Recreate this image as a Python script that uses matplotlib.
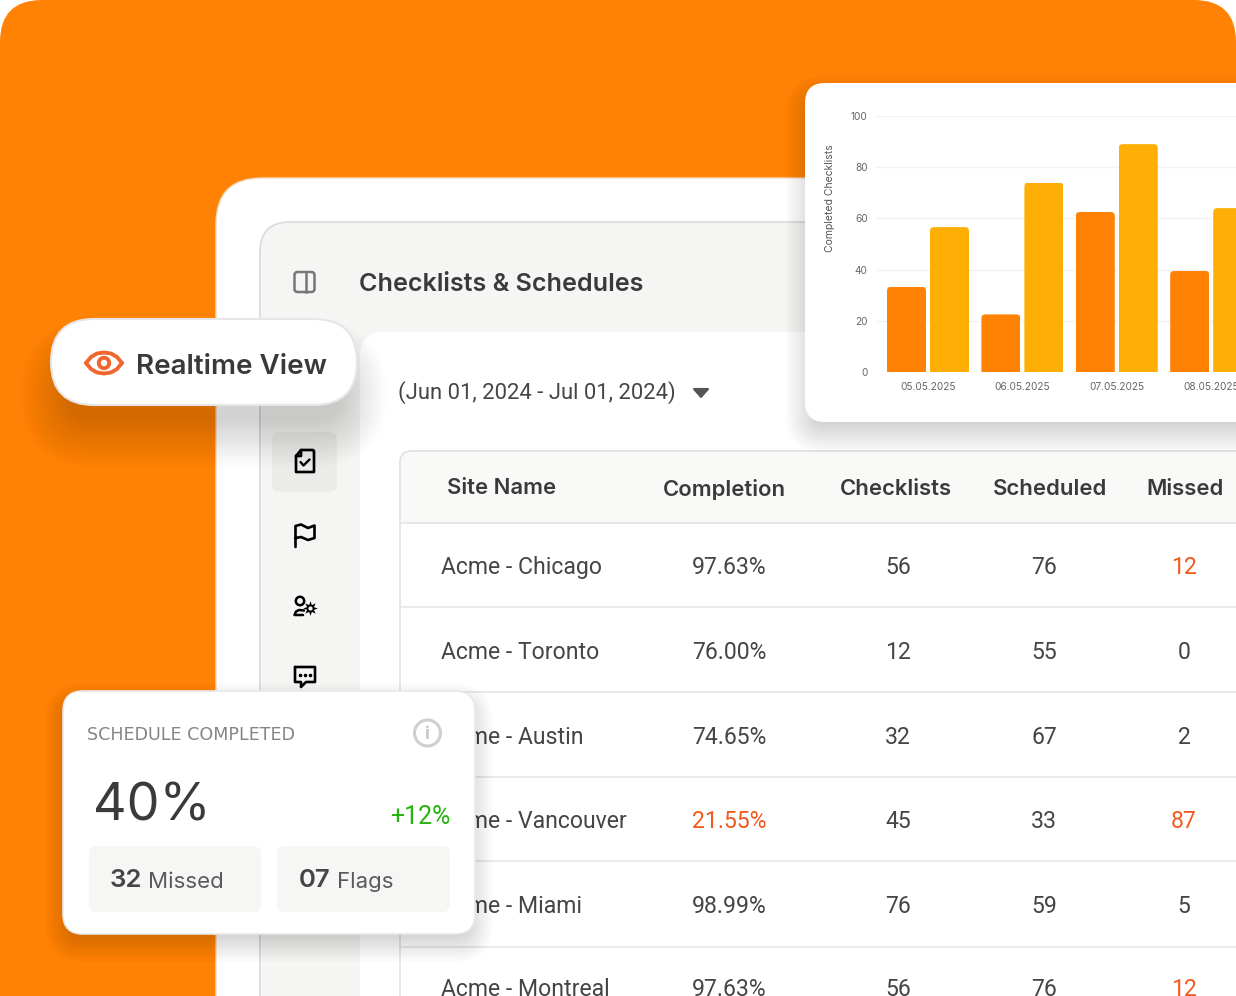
import numpy as np
import matplotlib
matplotlib.use('Agg')
import matplotlib.pyplot as plt
from matplotlib.patches import FancyBboxPatch, Circle, Polygon

plt.rcParams['font.family'] = ['Inter', 'DejaVu Sans']

# chart data
dates = ['05.05.2025', '06.05.2025', '07.05.2025', '08.05.2025']
completedA = [33.3, 22.5, 62.5, 39.5]
completedB = [56.6, 74, 89, 64]
yTicks = [0, 20, 40, 60, 80, 100]

# table data
headers = ['Site Name', 'Completion', 'Checklists', 'Scheduled', 'Missed']
sites = ['Acme - Chicago', 'Acme - Toronto', 'Acme - Austin', 'Acme - Vancouver', 'Acme - Miami', 'Acme - Montreal']
completion = ['97.63%', '76.00%', '74.65%', '21.55%', '98.99%', '97.63%']
checklists = ['56', '12', '32', '45', '76', '56']
scheduled = ['76', '55', '67', '33', '59', '76']
missed = ['12', '0', '2', '87', '5', '12']
alertCompletion = ['21.55%']
alertMissed = ['12', '87']

ORANGE = '#FF8205'
AMBER = '#FFAE05'
ALERT = '#F2591D'
DARK = '#3A3A3A'
TEXT = '#454545'
BODY = ['Roboto', 'DejaVu Sans']

fig = plt.figure(figsize=(12.36, 9.96), dpi=100, facecolor='white')
ui = fig.add_axes([0, 0, 1, 1])
ui.set_xlim(0, 1236)
ui.set_ylim(996, 0)
ui.axis('off')


# rounded box in pixel coordinates
def box(x, y, w, h, r, color, edge='none', lw=0, z=1, alpha=None):
    p = FancyBboxPatch((x, y), w, h, boxstyle='round,pad=0,rounding_size=%s' % r,
                       facecolor=color, edgecolor=edge, linewidth=lw, zorder=z, alpha=alpha)
    ui.add_patch(p)
    return p


# soft shadow made of stacked see-through boxes
def shadow(x, y, w, h, r, dy, blur, strength, z):
    n = 22
    for i in range(n):
        grow = blur * (1 - i / (n - 1)) - blur * 0.35
        box(x - grow, y + dy - grow, w + 2 * grow, h + 2 * grow, max(r + grow, 2), 'black', z=z, alpha=strength / n)


# stroke icon from point list
def stroke(points, color='black', lw=2, z=5, closed=False):
    pts = np.array(points, dtype=float)
    if closed:
        pts = np.vstack([pts, pts[0]])
    ui.plot(pts[:, 0], pts[:, 1], color=color, lw=lw, zorder=z, solid_capstyle='round', solid_joinstyle='round')


# background and page
box(0, 0, 1236, 1040, 42, ORANGE, z=0)
box(216, 178, 1100, 900, 46, 'white', edge='#F1D9BE', lw=1, z=1)
box(260, 222, 1040, 860, 30, '#F5F5F4', edge='#DADADA', lw=1.2, z=2)
box(360, 332, 960, 750, 24, 'white', z=3)
ui.text(359, 284, 'Checklists & Schedules', fontsize=18.1, fontweight='semibold', color=DARK, va='center', zorder=4)
ui.text(398, 393, '(Jun 01, 2024 - Jul 01, 2024)', fontsize=15.8, family=BODY, color=TEXT, va='center', zorder=4)
ui.add_patch(Polygon([[694, 389], [708, 389], [701, 397]], closed=True, fc='#555555', ec='#555555', lw=1.5, joinstyle='round', zorder=4))

# sidebar
box(272, 432, 65, 60, 8, '#EBEBEA', z=3)
box(294.5, 272, 20, 20, 3, 'none', edge='#777777', lw=1.8, z=4)
ui.plot([305.5, 305.5], [272, 292], color='#777777', lw=1.8, zorder=4)
stroke([[301, 450], [313, 450], [314, 451], [314, 472], [296, 472], [296, 456]], lw=1.9)
stroke([[296, 456], [301, 450], [301, 456], [296, 456]], lw=1.9)
stroke([[300.5, 462], [303.5, 465.5], [309.5, 459.5]], lw=1.7)
stroke([[295.5, 547], [295.5, 526], [301, 524.5], [308, 528], [314.5, 525.5], [314.5, 538], [308, 540], [301, 537], [295.5, 538]], lw=1.9)
ui.add_patch(Circle((300, 601), 4.2, fc='none', ec='black', lw=1.8, zorder=5))
stroke([[304, 610.5], [299, 610], [296, 611.5], [294.5, 615], [303, 615]], lw=1.8)
ui.scatter([310], [608], marker=(8, 1, 0), s=110, color='black', linewidths=0, zorder=5)
ui.scatter([310], [608], marker='o', s=9, color='#F5F5F4', linewidths=0, zorder=6)
stroke([[295, 667], [315, 667], [315, 682], [306, 682], [301, 687], [301, 682], [295, 682]], lw=1.9, closed=True)
ui.scatter([300, 305, 310], [675, 675, 675], s=2.5, color='black', zorder=5)

# table
box(400, 451, 900, 640, 12, 'white', edge='#E3E3E3', lw=1.2, z=3)
box(400, 451, 900, 72, 12, '#F9F9F8', edge='#E3E3E3', lw=1.2, z=3)
ui.fill_between([401, 1236], 510, 523, color='#F9F9F8', zorder=3.1, lw=0)
rowLines = [523, 607, 692, 777, 861, 947]
rowY = [567, 652, 737, 821, 906, 989]
for yLine in rowLines:
    ui.plot([400, 1236], [yLine, yLine], color='#E6E6E6', lw=1.2, zorder=3.2)

headX = [447, 663, 840, 993, 1146]
headY = [488, 489, 489, 489, 489]
for label, hx, hy in zip(headers, headX, headY):
    ui.text(hx, hy, label, fontsize=15.9, fontweight='semibold', color=DARK, va='center', zorder=4)

for i, yRow in enumerate(rowY):
    ui.text(441, yRow, sites[i], fontsize=16.6, family=BODY, color=TEXT, va='center', zorder=4)
    c = ALERT if completion[i] in alertCompletion else TEXT
    ui.text(692, yRow, completion[i], fontsize=16.6, family=BODY, color=c, va='center', zorder=4)
    ui.text(898, yRow, checklists[i], fontsize=16.6, family=BODY, color=TEXT, va='center', ha='center', zorder=4)
    ui.text(1044, yRow, scheduled[i], fontsize=16.6, family=BODY, color=TEXT, va='center', ha='center', zorder=4)
    c = ALERT if missed[i] in alertMissed else TEXT
    ui.text(1184, yRow, missed[i], fontsize=16.6, family=BODY, color=c, va='center', ha='center', zorder=4)

# realtime pill
shadow(51, 319, 306, 86, 43, 32, 46, 0.17, 6)
box(51, 319, 306, 86, 43, 'white', edge='#E6E6E6', lw=1.5, z=7)
eyeX = np.array([86, 91, 97, 104, 111, 117, 122])
eyeTop = np.array([363, 357, 353.5, 352.5, 353.5, 357, 363])
eyeBot = 2 * 363 - eyeTop
stroke(np.column_stack([eyeX, eyeTop]), color='#F0662F', lw=2.8, z=8)
stroke(np.column_stack([eyeX, eyeBot]), color='#F0662F', lw=2.8, z=8)
ui.add_patch(Circle((104, 363), 5.2, fc='none', ec='#F0662F', lw=2.8, zorder=8))
ui.text(136, 367, 'Realtime View', fontsize=20, fontweight='semibold', color=DARK, va='center', zorder=8)

# schedule card
shadow(63, 691, 412, 243, 20, 10, 28, 0.14, 6)
box(63, 691, 412, 243, 20, 'white', edge='#E8E8E8', lw=1.2, z=7)
ui.text(87, 735, 'SCHEDULE COMPLETED', fontsize=12.6, family=['DejaVu Sans'], color='#858585', va='center', zorder=8)
ui.add_patch(Circle((427.5, 733), 13, fc='none', ec='#CFCFCF', lw=2.2, zorder=8))
ui.text(427.5, 734, 'i', fontsize=13, fontweight='bold', color='#C9C9C9', ha='center', va='center', zorder=8)
ui.text(93, 807, '40%', fontsize=37.5, color=DARK, va='center', zorder=8)
ui.text(450, 817, '+12%', fontsize=18, family=BODY, color='#27B30E', va='center', ha='right', zorder=8)
box(89, 846, 172, 66, 8, '#F6F6F5', z=8)
box(277, 846, 173, 66, 8, '#F6F6F5', z=8)
ui.text(110, 880, '32', fontsize=18.5, fontweight='semibold', color=TEXT, va='center', zorder=9)
ui.text(148, 882, 'Missed', fontsize=16, color='#5A5A5A', va='center', zorder=9)
ui.text(299, 880, '07', fontsize=18.5, fontweight='semibold', color=TEXT, va='center', zorder=9)
ui.text(337, 882, 'Flags', fontsize=16, color='#5A5A5A', va='center', zorder=9)

# chart card
shadow(805, 83, 520, 339, 20, 12, 30, 0.16, 8)
box(805, 83, 520, 339, 20, 'white', z=9)

# bar chart lives in its own axes on top of the card
ax = fig.add_axes([876 / 1236, (996 - 372) / 996, 360 / 1236, 256 / 996])
ax.patch.set_alpha(0)
groupStep = 94.4
ax.set_xlim((876 - 928) / groupStep, (1236 - 928) / groupStep)
ax.set_ylim(0, 100)
x = np.arange(len(dates))
barW = 39 / groupStep
offset = 21.5 / groupStep
barsA = ax.bar(x - offset, completedA, barW, color=ORANGE, zorder=3)
barsB = ax.bar(x + offset, completedB, barW, color=AMBER, zorder=3)

# round the bar tops by clipping each bar
aspect = (100 / 256) / (1 / groupStep)
for bar in list(barsA) + list(barsB):
    clip = FancyBboxPatch((bar.get_x(), -10), bar.get_width(), bar.get_height() + 10,
                          boxstyle='round,pad=0,rounding_size=%f' % (4 / groupStep),
                          mutation_aspect=aspect, transform=ax.transData)
    bar.set_clip_path(clip)

ax.set_xticks(x)
ax.set_xticklabels(dates)
ax.set_yticks(yTicks)
ax.tick_params(axis='both', length=0, labelsize=7.3, labelcolor='#666666')
ax.tick_params(axis='x', pad=7)
ax.tick_params(axis='y', pad=6)
ax.grid(axis='y', color='#F3F3F3', lw=1, zorder=0)
ax.set_axisbelow(True)
for s in ax.spines.values():
    s.set_visible(False)
ax.set_ylabel('Completed Checklists', fontsize=7.5, color='#555555')
ax.yaxis.set_label_coords((835 - 876) / 360, (372 - 198) / 256)

fig.savefig('out.png', dpi=100, facecolor='white')
